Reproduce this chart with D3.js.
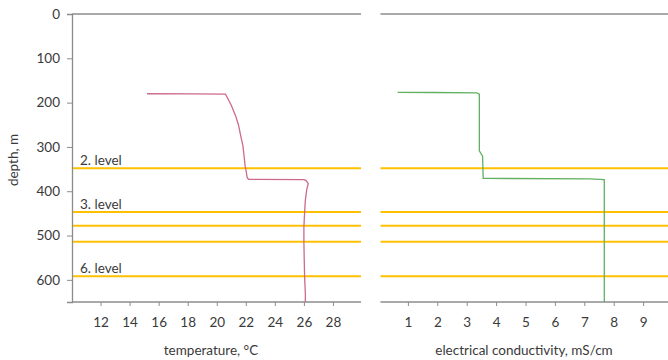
<!DOCTYPE html>
<html><head><meta charset="utf-8">
<script src="https://cdn.jsdelivr.net/npm/d3@7"></script>
<style>body{margin:0;background:#fff}svg{display:block}text{font-family:Lato,"Open Sans",sans-serif;fill:#3a3a3a}</style>
</head><body>
<svg id="c" width="668" height="360"></svg>
<script>
// depth (m) / temperature (°C)
const tempDepth = [180,180.5,181,190,206,230,251,275,297,320,342,360,370,373,374,376,383,395,420,447,480,515,550,595,630,650];
const tempValue = [15.2,18.3,20.6,20.75,21.0,21.3,21.5,21.65,21.8,21.88,21.95,22.05,22.1,22.2,26.0,26.15,26.3,26.2,26.1,26.05,26.0,26.0,26.02,26.05,26.1,26.1];
// depth (m) / electrical conductivity (mS/cm)
const ecDepth = [177,177.2,178,181,309,321,371,372,374,650];
const ecValue = [0.65,1.86,3.34,3.43,3.43,3.54,3.56,7.19,7.68,7.68];
// level lines (depth, m)
const levelDepths = [348,447,478,514,592];
const levelLabels = ["2. level","3. level","","","6. level"];
const depthTicks = [0,100,200,300,400,500,600];
const tempTicks = [12,14,16,18,20,22,24,26,28];
const ecTicks = [1,2,3,4,5,6,7,8,9];

const svg = d3.select("#c");
const y = d3.scaleLinear().domain([0,650]).range([14,302]);
const xT = d3.scaleLinear().domain([10,30]).range([71.5,362]);
const xE = d3.scaleLinear().domain([0,10]).range([378.5,672.5]);
const axisCol = "#8c8c8c", gold = "#ffc000", fs = "13.5px";

function panel(x, x0, x1, ticks, title, titleX){
  const g = svg.append("g");
  g.append("line").attr("x1",x0).attr("x2",x1).attr("y1",y(0)).attr("y2",y(0)).attr("stroke",axisCol).attr("stroke-width",1.3);
  levelDepths.forEach((d,i)=>{
    g.append("line").attr("x1",x0).attr("x2",x1).attr("y1",y(d)).attr("y2",y(d)).attr("stroke",gold).attr("stroke-width",2);
  });
  const ax = g.append("g").attr("transform",`translate(0,${y(650)})`)
    .call(d3.axisBottom(x).tickValues(ticks).tickSize(4).tickPadding(11).tickFormat(d3.format("d")));
  ax.select(".domain").remove();
  ax.selectAll(".tick line").attr("stroke",axisCol);
  ax.selectAll(".tick text").style("font-size",fs).style("font-family","Lato,'Open Sans',sans-serif").attr("fill","#3a3a3a");
  g.append("line").attr("x1",x0).attr("x2",x1).attr("y1",y(650)).attr("y2",y(650)).attr("stroke",axisCol).attr("stroke-width",1.3);
  g.append("text").attr("x",titleX).attr("y",355).attr("text-anchor","middle").style("font-size",fs).text(title);
  return g;
}

const gL = panel(xT, 72, 361, tempTicks, "temperature, °C", 211);
const gR = panel(xE, 380.5, 668, ecTicks, "electrical conductivity, mS/cm", 524);

levelDepths.forEach((d,i)=>{
  if(levelLabels[i]) gL.append("text").attr("x",80).attr("y",y(d)-3).style("font-size",fs).attr("fill","#262626").text(levelLabels[i]);
});

const ay = svg.append("g").attr("transform","translate(72,0)")
  .call(d3.axisLeft(y).tickValues(depthTicks).tickSize(5).tickPadding(7).tickFormat(d3.format("d")));
ay.select(".domain").attr("stroke",axisCol).attr("stroke-width",1.3);
ay.selectAll(".tick line").attr("stroke",axisCol);
ay.selectAll(".tick text").style("font-size",fs).style("font-family","Lato,'Open Sans',sans-serif").attr("fill","#3a3a3a");
svg.append("text").attr("transform","translate(18,160) rotate(-90)").attr("text-anchor","middle").style("font-size",fs).text("depth, m");

const tData = tempDepth.map((d,i)=>[tempValue[i],d]);
const eData = ecDepth.map((d,i)=>[ecValue[i],d]);
svg.append("path").datum(tData).attr("fill","none").attr("stroke","#cc6a8a").attr("stroke-width",1.3)
  .attr("d",d3.line().x(d=>xT(d[0])).y(d=>y(d[1])));
svg.append("path").datum(eData).attr("fill","none").attr("stroke","#62b062").attr("stroke-width",1.3)
  .attr("d",d3.line().x(d=>xE(d[0])).y(d=>y(d[1])));
</script>
</body></html>
